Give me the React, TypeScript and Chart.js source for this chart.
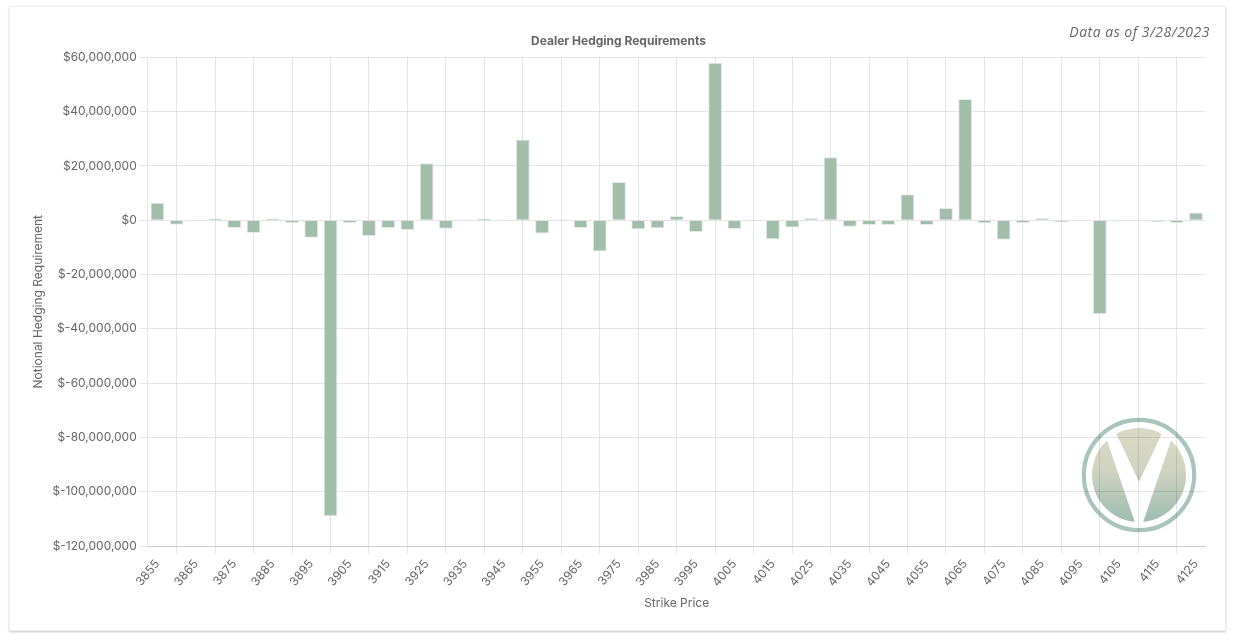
import React, { useEffect, useRef } from "react";
import { Chart, registerables } from "chart.js";

Chart.register(...registerables);

const strikes: string[] = [
  "3855", "3860", "3865", "3870", "3875", "3880", "3885", "3890", "3895", "3900",
  "3905", "3910", "3915", "3920", "3925", "3930", "3935", "3940", "3945", "3950",
  "3955", "3960", "3965", "3970", "3975", "3980", "3985", "3990", "3995", "4000",
  "4005", "4010", "4015", "4020", "4025", "4030", "4035", "4040", "4045", "4050",
  "4055", "4060", "4065", "4070", "4075", "4080", "4085", "4090", "4095", "4100",
  "4105", "4110", "4115", "4120", "4125",
];

// Notional hedging requirement, in millions of dollars
const hedgingMillions: number[] = [
  6.5, -1.6, 0, 0.7, -2.8, -4.7, 0.7, -1.0, -6.4, -109.0,
  -1.0, -5.8, -2.8, -3.6, 21.0, -3.1, 0.35, 0.7, 0.1, 29.8,
  -4.9, 0.35, -2.8, -11.5, 14.1, -3.3, -2.9, 1.6, -4.3, 58.0,
  -3.2, 0.25, -7.0, -2.7, 0.85, 23.2, -2.4, -1.7, -1.7, 9.6,
  -1.7, 4.5, 44.7, -1.1, -7.2, -1.0, 0.85, -0.7, 0.2, -34.6,
  0.15, 0, -0.6, -1.0, 2.9,
];

const yMin = -120000000;
const yMax = 60000000;
const yStep = 20000000;

const chartTitle = "Dealer Hedging Requirements";
const xTitle = "Strike Price";
const yTitle = "Notional Hedging Requirement";
const asOfText = "Data as of 3/28/2023";

export default function App() {
  const canvasRef = useRef<HTMLCanvasElement | null>(null);

  useEffect(() => {
    if (!canvasRef.current) return;
    Chart.defaults.font.family = "Inter, 'Noto Sans', sans-serif";
    Chart.defaults.color = "#666";
    const chart = new Chart(canvasRef.current, {
      type: "bar",
      data: {
        labels: strikes,
        datasets: [
          {
            label: "Hedging",
            data: hedgingMillions.map((v) => v * 1000000),
            backgroundColor: "#a3bdab",
            borderColor: "#e2ebe4",
            borderWidth: 1,
          },
        ],
      },
      options: {
        animation: false,
        responsive: true,
        maintainAspectRatio: false,
        plugins: {
          legend: { display: false },
          tooltip: { enabled: false },
          title: {
            display: true,
            text: chartTitle,
            font: { size: 12, weight: "bold" },
            color: "#666",
            padding: { top: 10, bottom: 9 },
          },
        },
        scales: {
          x: {
            title: { display: true, text: xTitle, font: { size: 12 } },
            ticks: { font: { size: 12 } },
          },
          y: {
            min: yMin,
            max: yMax,
            ticks: {
              stepSize: yStep,
              font: { size: 12 },
              callback: (value: any) => "$" + Number(value).toLocaleString("en-US"),
            },
            title: { display: true, text: yTitle, font: { size: 12 } },
          },
        },
      },
    });
    return () => chart.destroy();
  }, []);

  const cx = 1139;
  const cy = 475;
  const r = 47;

  return (
    <div style={{ position: "absolute", left: 0, top: 0, width: 1233, height: 639, background: "#fff" }}>
      <div
        style={{
          position: "absolute",
          left: 9,
          top: 6,
          width: 1215,
          height: 623,
          border: "1px solid #ededed",
          boxShadow: "0 1px 2px rgba(0,0,0,0.22)",
          background: "#fff",
        }}
      />
      <svg
        width={1233}
        height={639}
        style={{ position: "absolute", left: 0, top: 0 }}
      >
        <defs>
          <clipPath id="disc">
            <circle cx={cx} cy={cy} r={r} />
          </clipPath>
          <linearGradient id="grad" x1="0" y1={cy - r} x2="0" y2={cy + r} gradientUnits="userSpaceOnUse">
            <stop offset="0" stopColor="#dadac6" />
            <stop offset="0.45" stopColor="#cfd3c0" />
            <stop offset="1" stopColor="#9ebcb2" />
          </linearGradient>
        </defs>
        <circle cx={cx} cy={cy} r={55.2} fill="none" stroke="#a9c4ba" strokeWidth={4.2} />
        <g clipPath="url(#disc)">
          <polygon points="1109.7,420 1168.3,420 1139,481.7" fill="url(#grad)" />
          <polygon points="1100,420 1137.6,530 1080,530 1080,420" fill="url(#grad)" />
          <polygon points="1178,420 1140.4,530 1198,530 1198,420" fill="url(#grad)" />
        </g>
      </svg>
      <div
        style={{
          position: "absolute",
          left: 27,
          top: 24,
          width: 1183,
          height: 591,
        }}
      >
        <canvas ref={canvasRef} />
      </div>
      <div
        style={{
          position: "absolute",
          right: 1233 - 1210,
          top: 22,
          fontFamily: "'Open Sans', sans-serif",
          fontStyle: "italic",
          fontSize: 14,
          letterSpacing: 0.5,
          color: "#666",
          whiteSpace: "nowrap",
        }}
      >
        {asOfText}
      </div>
    </div>
  );
}
